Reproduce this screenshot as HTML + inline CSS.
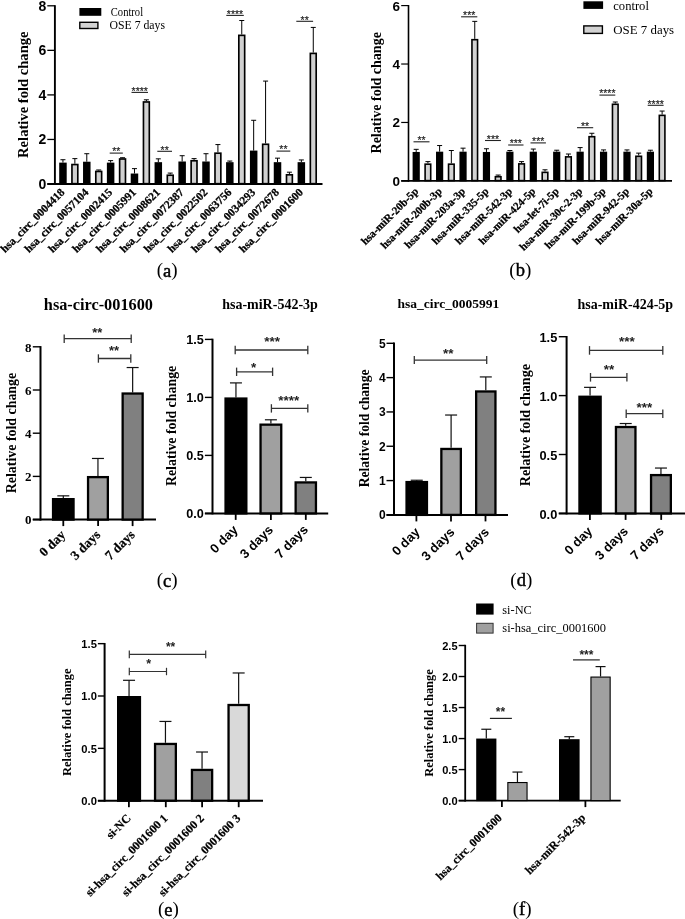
<!DOCTYPE html>
<html><head><meta charset="utf-8"><title>Figure</title>
<style>html,body{margin:0;padding:0;background:#fff;}svg{display:block;will-change:transform;}</style>
</head><body>
<svg width="685" height="919" viewBox="0 0 685 919">
<rect x="0" y="0" width="685" height="919" fill="#fff"/>
<line x1="54.90" y1="5.20" x2="54.90" y2="184.90" stroke="#000" stroke-width="1.9"/>
<line x1="47.30" y1="184.00" x2="54.90" y2="184.00" stroke="#000" stroke-width="1.3"/>
<text x="46.40" y="189.00" font-family='"Liberation Sans", sans-serif' font-size="14" font-weight="bold" text-anchor="end" fill="#000">0</text>
<line x1="47.30" y1="139.45" x2="54.90" y2="139.45" stroke="#000" stroke-width="1.3"/>
<text x="46.40" y="144.45" font-family='"Liberation Sans", sans-serif' font-size="14" font-weight="bold" text-anchor="end" fill="#000">2</text>
<line x1="47.30" y1="94.90" x2="54.90" y2="94.90" stroke="#000" stroke-width="1.3"/>
<text x="46.40" y="99.90" font-family='"Liberation Sans", sans-serif' font-size="14" font-weight="bold" text-anchor="end" fill="#000">4</text>
<line x1="47.30" y1="50.35" x2="54.90" y2="50.35" stroke="#000" stroke-width="1.3"/>
<text x="46.40" y="55.35" font-family='"Liberation Sans", sans-serif' font-size="14" font-weight="bold" text-anchor="end" fill="#000">6</text>
<line x1="47.30" y1="5.80" x2="54.90" y2="5.80" stroke="#000" stroke-width="1.3"/>
<text x="46.40" y="10.80" font-family='"Liberation Sans", sans-serif' font-size="14" font-weight="bold" text-anchor="end" fill="#000">8</text>
<line x1="47.30" y1="184.00" x2="322.50" y2="184.00" stroke="#000" stroke-width="1.9"/>
<line x1="62.95" y1="162.62" x2="62.95" y2="159.72" stroke="#000" stroke-width="1.0"/>
<line x1="60.45" y1="159.72" x2="65.45" y2="159.72" stroke="#000" stroke-width="1.0"/>
<rect x="59.20" y="162.62" width="7.50" height="21.88" fill="#000"/>
<line x1="74.87" y1="163.73" x2="74.87" y2="158.61" stroke="#000" stroke-width="1.0"/>
<line x1="72.37" y1="158.61" x2="77.37" y2="158.61" stroke="#000" stroke-width="1.0"/>
<rect x="71.95" y="164.55" width="5.85" height="19.12" fill="#d0d0d0" stroke="#000" stroke-width="1.65"/>
<line x1="86.79" y1="161.72" x2="86.79" y2="153.71" stroke="#000" stroke-width="1.0"/>
<line x1="84.29" y1="153.71" x2="89.29" y2="153.71" stroke="#000" stroke-width="1.0"/>
<rect x="83.04" y="161.72" width="7.50" height="22.78" fill="#000"/>
<line x1="98.71" y1="170.63" x2="98.71" y2="169.97" stroke="#000" stroke-width="1.0"/>
<line x1="96.21" y1="169.97" x2="101.21" y2="169.97" stroke="#000" stroke-width="1.0"/>
<rect x="95.79" y="171.46" width="5.85" height="12.22" fill="#d0d0d0" stroke="#000" stroke-width="1.65"/>
<line x1="110.63" y1="162.62" x2="110.63" y2="160.61" stroke="#000" stroke-width="1.0"/>
<line x1="108.13" y1="160.61" x2="113.13" y2="160.61" stroke="#000" stroke-width="1.0"/>
<rect x="106.88" y="162.62" width="7.50" height="21.88" fill="#000"/>
<line x1="122.55" y1="158.16" x2="122.55" y2="157.72" stroke="#000" stroke-width="1.0"/>
<line x1="120.05" y1="157.72" x2="125.05" y2="157.72" stroke="#000" stroke-width="1.0"/>
<rect x="119.63" y="158.99" width="5.85" height="24.69" fill="#d0d0d0" stroke="#000" stroke-width="1.65"/>
<line x1="134.47" y1="173.53" x2="134.47" y2="168.63" stroke="#000" stroke-width="1.0"/>
<line x1="131.97" y1="168.63" x2="136.97" y2="168.63" stroke="#000" stroke-width="1.0"/>
<rect x="130.72" y="173.53" width="7.50" height="10.97" fill="#000"/>
<line x1="146.39" y1="101.14" x2="146.39" y2="99.80" stroke="#000" stroke-width="1.0"/>
<line x1="143.89" y1="99.80" x2="148.89" y2="99.80" stroke="#000" stroke-width="1.0"/>
<rect x="143.46" y="101.96" width="5.85" height="81.71" fill="#d0d0d0" stroke="#000" stroke-width="1.65"/>
<line x1="158.31" y1="162.17" x2="158.31" y2="158.83" stroke="#000" stroke-width="1.0"/>
<line x1="155.81" y1="158.83" x2="160.81" y2="158.83" stroke="#000" stroke-width="1.0"/>
<rect x="154.56" y="162.17" width="7.50" height="22.33" fill="#000"/>
<line x1="170.23" y1="174.42" x2="170.23" y2="173.09" stroke="#000" stroke-width="1.0"/>
<line x1="167.73" y1="173.09" x2="172.73" y2="173.09" stroke="#000" stroke-width="1.0"/>
<rect x="167.31" y="175.25" width="5.85" height="8.43" fill="#d0d0d0" stroke="#000" stroke-width="1.65"/>
<line x1="182.15" y1="161.50" x2="182.15" y2="155.71" stroke="#000" stroke-width="1.0"/>
<line x1="179.65" y1="155.71" x2="184.65" y2="155.71" stroke="#000" stroke-width="1.0"/>
<rect x="178.40" y="161.50" width="7.50" height="23.00" fill="#000"/>
<line x1="194.07" y1="159.94" x2="194.07" y2="158.61" stroke="#000" stroke-width="1.0"/>
<line x1="191.57" y1="158.61" x2="196.57" y2="158.61" stroke="#000" stroke-width="1.0"/>
<rect x="191.14" y="160.77" width="5.85" height="22.91" fill="#d0d0d0" stroke="#000" stroke-width="1.65"/>
<line x1="205.99" y1="161.50" x2="205.99" y2="153.71" stroke="#000" stroke-width="1.0"/>
<line x1="203.49" y1="153.71" x2="208.49" y2="153.71" stroke="#000" stroke-width="1.0"/>
<rect x="202.24" y="161.50" width="7.50" height="23.00" fill="#000"/>
<line x1="217.91" y1="152.37" x2="217.91" y2="144.57" stroke="#000" stroke-width="1.0"/>
<line x1="215.41" y1="144.57" x2="220.41" y2="144.57" stroke="#000" stroke-width="1.0"/>
<rect x="214.99" y="153.19" width="5.85" height="30.48" fill="#d0d0d0" stroke="#000" stroke-width="1.65"/>
<line x1="229.83" y1="162.17" x2="229.83" y2="161.06" stroke="#000" stroke-width="1.0"/>
<line x1="227.33" y1="161.06" x2="232.33" y2="161.06" stroke="#000" stroke-width="1.0"/>
<rect x="226.08" y="162.17" width="7.50" height="22.33" fill="#000"/>
<line x1="241.75" y1="34.53" x2="241.75" y2="20.50" stroke="#000" stroke-width="1.0"/>
<line x1="239.25" y1="20.50" x2="244.25" y2="20.50" stroke="#000" stroke-width="1.0"/>
<rect x="238.82" y="35.36" width="5.85" height="148.32" fill="#d0d0d0" stroke="#000" stroke-width="1.65"/>
<line x1="253.67" y1="150.59" x2="253.67" y2="120.29" stroke="#000" stroke-width="1.0"/>
<line x1="251.17" y1="120.29" x2="256.17" y2="120.29" stroke="#000" stroke-width="1.0"/>
<rect x="249.92" y="150.59" width="7.50" height="33.91" fill="#000"/>
<line x1="265.59" y1="143.46" x2="265.59" y2="81.09" stroke="#000" stroke-width="1.0"/>
<line x1="263.09" y1="81.09" x2="268.09" y2="81.09" stroke="#000" stroke-width="1.0"/>
<rect x="262.66" y="144.28" width="5.85" height="39.39" fill="#d0d0d0" stroke="#000" stroke-width="1.65"/>
<line x1="277.51" y1="162.17" x2="277.51" y2="158.16" stroke="#000" stroke-width="1.0"/>
<line x1="275.01" y1="158.16" x2="280.01" y2="158.16" stroke="#000" stroke-width="1.0"/>
<rect x="273.76" y="162.17" width="7.50" height="22.33" fill="#000"/>
<line x1="289.43" y1="173.98" x2="289.43" y2="172.19" stroke="#000" stroke-width="1.0"/>
<line x1="286.93" y1="172.19" x2="291.93" y2="172.19" stroke="#000" stroke-width="1.0"/>
<rect x="286.50" y="174.80" width="5.85" height="8.87" fill="#d0d0d0" stroke="#000" stroke-width="1.65"/>
<line x1="301.35" y1="162.17" x2="301.35" y2="159.94" stroke="#000" stroke-width="1.0"/>
<line x1="298.85" y1="159.94" x2="303.85" y2="159.94" stroke="#000" stroke-width="1.0"/>
<rect x="297.60" y="162.17" width="7.50" height="22.33" fill="#000"/>
<line x1="313.27" y1="52.58" x2="313.27" y2="27.41" stroke="#000" stroke-width="1.0"/>
<line x1="310.77" y1="27.41" x2="315.77" y2="27.41" stroke="#000" stroke-width="1.0"/>
<rect x="310.34" y="53.40" width="5.85" height="130.27" fill="#d0d0d0" stroke="#000" stroke-width="1.65"/>
<line x1="109.70" y1="153.10" x2="122.80" y2="153.10" stroke="#222" stroke-width="1.1"/>
<text x="116.25" y="155.30" font-family='"Liberation Sans", sans-serif' font-size="10.5" text-anchor="middle" fill="#222" stroke="#222" stroke-width="0.15">**</text>
<line x1="131.50" y1="92.40" x2="148.00" y2="92.40" stroke="#222" stroke-width="1.1"/>
<text x="139.75" y="94.60" font-family='"Liberation Sans", sans-serif' font-size="10.5" text-anchor="middle" fill="#222" stroke="#222" stroke-width="0.15">****</text>
<line x1="157.30" y1="151.30" x2="172.00" y2="151.30" stroke="#222" stroke-width="1.1"/>
<text x="164.65" y="153.50" font-family='"Liberation Sans", sans-serif' font-size="10.5" text-anchor="middle" fill="#222" stroke="#222" stroke-width="0.15">**</text>
<line x1="226.30" y1="15.40" x2="243.80" y2="15.40" stroke="#222" stroke-width="1.1"/>
<text x="235.05" y="17.60" font-family='"Liberation Sans", sans-serif' font-size="10.5" text-anchor="middle" fill="#222" stroke="#222" stroke-width="0.15">****</text>
<line x1="276.50" y1="151.10" x2="290.30" y2="151.10" stroke="#222" stroke-width="1.1"/>
<text x="283.40" y="153.30" font-family='"Liberation Sans", sans-serif' font-size="10.5" text-anchor="middle" fill="#222" stroke="#222" stroke-width="0.15">**</text>
<line x1="296.30" y1="21.30" x2="313.10" y2="21.30" stroke="#222" stroke-width="1.1"/>
<text x="304.70" y="23.50" font-family='"Liberation Sans", sans-serif' font-size="10.5" text-anchor="middle" fill="#222" stroke="#222" stroke-width="0.15">**</text>
<rect x="79.40" y="8.00" width="21.90" height="7.80" fill="#000"/>
<rect x="79.80" y="22.30" width="18.10" height="6.20" fill="#d2d2d2" stroke="#000" stroke-width="1.4"/>
<text x="110.80" y="15.90" font-family='"Liberation Serif", serif' font-size="11.7" font-weight="normal" text-anchor="start" fill="#000" textLength="32.30" lengthAdjust="spacingAndGlyphs">Control</text>
<text x="109.60" y="29.30" font-family='"Liberation Serif", serif' font-size="11.7" font-weight="normal" text-anchor="start" fill="#000" textLength="55.40" lengthAdjust="spacingAndGlyphs">OSE 7 days</text>
<text x="28.00" y="94.70" font-family='"Liberation Serif", serif' font-size="14.6" font-weight="bold" text-anchor="middle" fill="#000" transform="rotate(-90 28.00 94.70)">Relative fold change</text>
<text x="65.31" y="193.00" font-family='"Liberation Serif", serif' font-size="11.3" font-weight="bold" text-anchor="end" fill="#000" transform="rotate(-45 65.31 193.00)" stroke="#000" stroke-width="0.25">hsa_circ_0004418</text>
<text x="89.15" y="193.00" font-family='"Liberation Serif", serif' font-size="11.3" font-weight="bold" text-anchor="end" fill="#000" transform="rotate(-45 89.15 193.00)" stroke="#000" stroke-width="0.25">hsa_circ_0057104</text>
<text x="112.99" y="193.00" font-family='"Liberation Serif", serif' font-size="11.3" font-weight="bold" text-anchor="end" fill="#000" transform="rotate(-45 112.99 193.00)" stroke="#000" stroke-width="0.25">hsa_circ_0002415</text>
<text x="136.83" y="193.00" font-family='"Liberation Serif", serif' font-size="11.3" font-weight="bold" text-anchor="end" fill="#000" transform="rotate(-45 136.83 193.00)" stroke="#000" stroke-width="0.25">hsa_circ_0005991</text>
<text x="160.67" y="193.00" font-family='"Liberation Serif", serif' font-size="11.3" font-weight="bold" text-anchor="end" fill="#000" transform="rotate(-45 160.67 193.00)" stroke="#000" stroke-width="0.25">hsa_circ_0008621</text>
<text x="184.51" y="193.00" font-family='"Liberation Serif", serif' font-size="11.3" font-weight="bold" text-anchor="end" fill="#000" transform="rotate(-45 184.51 193.00)" stroke="#000" stroke-width="0.25">hsa_circ_0072387</text>
<text x="208.35" y="193.00" font-family='"Liberation Serif", serif' font-size="11.3" font-weight="bold" text-anchor="end" fill="#000" transform="rotate(-45 208.35 193.00)" stroke="#000" stroke-width="0.25">hsa_circ_0022502</text>
<text x="232.19" y="193.00" font-family='"Liberation Serif", serif' font-size="11.3" font-weight="bold" text-anchor="end" fill="#000" transform="rotate(-45 232.19 193.00)" stroke="#000" stroke-width="0.25">hsa_circ_0063756</text>
<text x="256.03" y="193.00" font-family='"Liberation Serif", serif' font-size="11.3" font-weight="bold" text-anchor="end" fill="#000" transform="rotate(-45 256.03 193.00)" stroke="#000" stroke-width="0.25">hsa_circ_0034293</text>
<text x="279.87" y="193.00" font-family='"Liberation Serif", serif' font-size="11.3" font-weight="bold" text-anchor="end" fill="#000" transform="rotate(-45 279.87 193.00)" stroke="#000" stroke-width="0.25">hsa_circ_0072678</text>
<text x="303.71" y="193.00" font-family='"Liberation Serif", serif' font-size="11.3" font-weight="bold" text-anchor="end" fill="#000" transform="rotate(-45 303.71 193.00)" stroke="#000" stroke-width="0.25">hsa_circ_0001600</text>
<text x="167.20" y="276.10" font-family='"Liberation Serif", serif' font-size="19" text-anchor="middle">(<tspan font-size="18.5" stroke="#000" stroke-width="0.45" dy="0.6">a</tspan><tspan dy="-0.6">)</tspan></text>
<line x1="408.50" y1="4.98" x2="408.50" y2="181.80" stroke="#000" stroke-width="1.6"/>
<line x1="401.20" y1="180.90" x2="408.50" y2="180.90" stroke="#000" stroke-width="1.2"/>
<text x="400.10" y="185.90" font-family='"Liberation Sans", sans-serif' font-size="13.5" font-weight="bold" text-anchor="end" fill="#000">0</text>
<line x1="401.20" y1="122.46" x2="408.50" y2="122.46" stroke="#000" stroke-width="1.2"/>
<text x="400.10" y="127.46" font-family='"Liberation Sans", sans-serif' font-size="13.5" font-weight="bold" text-anchor="end" fill="#000">2</text>
<line x1="401.20" y1="64.02" x2="408.50" y2="64.02" stroke="#000" stroke-width="1.2"/>
<text x="400.10" y="69.02" font-family='"Liberation Sans", sans-serif' font-size="13.5" font-weight="bold" text-anchor="end" fill="#000">4</text>
<line x1="401.20" y1="5.58" x2="408.50" y2="5.58" stroke="#000" stroke-width="1.2"/>
<text x="400.10" y="10.58" font-family='"Liberation Sans", sans-serif' font-size="13.5" font-weight="bold" text-anchor="end" fill="#000">6</text>
<line x1="401.20" y1="180.90" x2="672.00" y2="180.90" stroke="#000" stroke-width="1.9"/>
<line x1="416.20" y1="151.97" x2="416.20" y2="149.34" stroke="#000" stroke-width="1.0"/>
<line x1="413.70" y1="149.34" x2="418.70" y2="149.34" stroke="#000" stroke-width="1.0"/>
<rect x="412.60" y="151.97" width="7.20" height="29.43" fill="#000"/>
<line x1="427.91" y1="163.37" x2="427.91" y2="161.61" stroke="#000" stroke-width="1.0"/>
<line x1="425.41" y1="161.61" x2="430.41" y2="161.61" stroke="#000" stroke-width="1.0"/>
<rect x="425.11" y="164.17" width="5.60" height="16.43" fill="#d2d2d2" stroke="#000" stroke-width="1.6"/>
<line x1="439.62" y1="151.68" x2="439.62" y2="145.54" stroke="#000" stroke-width="1.0"/>
<line x1="437.12" y1="145.54" x2="442.12" y2="145.54" stroke="#000" stroke-width="1.0"/>
<rect x="436.02" y="151.68" width="7.20" height="29.72" fill="#000"/>
<line x1="451.33" y1="163.37" x2="451.33" y2="150.51" stroke="#000" stroke-width="1.0"/>
<line x1="448.83" y1="150.51" x2="453.83" y2="150.51" stroke="#000" stroke-width="1.0"/>
<rect x="448.53" y="164.17" width="5.60" height="16.43" fill="#d2d2d2" stroke="#000" stroke-width="1.6"/>
<line x1="463.04" y1="151.68" x2="463.04" y2="148.17" stroke="#000" stroke-width="1.0"/>
<line x1="460.54" y1="148.17" x2="465.54" y2="148.17" stroke="#000" stroke-width="1.0"/>
<rect x="459.44" y="151.68" width="7.20" height="29.72" fill="#000"/>
<line x1="474.75" y1="38.89" x2="474.75" y2="21.36" stroke="#000" stroke-width="1.0"/>
<line x1="472.25" y1="21.36" x2="477.25" y2="21.36" stroke="#000" stroke-width="1.0"/>
<rect x="471.95" y="39.69" width="5.60" height="140.91" fill="#d2d2d2" stroke="#000" stroke-width="1.6"/>
<line x1="486.46" y1="151.97" x2="486.46" y2="148.76" stroke="#000" stroke-width="1.0"/>
<line x1="483.96" y1="148.76" x2="488.96" y2="148.76" stroke="#000" stroke-width="1.0"/>
<rect x="482.86" y="151.97" width="7.20" height="29.43" fill="#000"/>
<line x1="498.17" y1="175.93" x2="498.17" y2="175.06" stroke="#000" stroke-width="1.0"/>
<line x1="495.67" y1="175.06" x2="500.67" y2="175.06" stroke="#000" stroke-width="1.0"/>
<rect x="495.37" y="176.73" width="5.60" height="3.87" fill="#d2d2d2" stroke="#000" stroke-width="1.6"/>
<line x1="509.88" y1="151.68" x2="509.88" y2="150.51" stroke="#000" stroke-width="1.0"/>
<line x1="507.38" y1="150.51" x2="512.38" y2="150.51" stroke="#000" stroke-width="1.0"/>
<rect x="506.28" y="151.68" width="7.20" height="29.72" fill="#000"/>
<line x1="521.59" y1="163.08" x2="521.59" y2="161.61" stroke="#000" stroke-width="1.0"/>
<line x1="519.09" y1="161.61" x2="524.09" y2="161.61" stroke="#000" stroke-width="1.0"/>
<rect x="518.79" y="163.88" width="5.60" height="16.72" fill="#d2d2d2" stroke="#000" stroke-width="1.6"/>
<line x1="533.30" y1="151.68" x2="533.30" y2="149.05" stroke="#000" stroke-width="1.0"/>
<line x1="530.80" y1="149.05" x2="535.80" y2="149.05" stroke="#000" stroke-width="1.0"/>
<rect x="529.70" y="151.68" width="7.20" height="29.72" fill="#000"/>
<line x1="545.01" y1="171.55" x2="545.01" y2="169.80" stroke="#000" stroke-width="1.0"/>
<line x1="542.51" y1="169.80" x2="547.51" y2="169.80" stroke="#000" stroke-width="1.0"/>
<rect x="542.21" y="172.35" width="5.60" height="8.25" fill="#d2d2d2" stroke="#000" stroke-width="1.6"/>
<line x1="556.72" y1="151.68" x2="556.72" y2="150.22" stroke="#000" stroke-width="1.0"/>
<line x1="554.22" y1="150.22" x2="559.22" y2="150.22" stroke="#000" stroke-width="1.0"/>
<rect x="553.12" y="151.68" width="7.20" height="29.72" fill="#000"/>
<line x1="568.43" y1="156.06" x2="568.43" y2="154.02" stroke="#000" stroke-width="1.0"/>
<line x1="565.93" y1="154.02" x2="570.93" y2="154.02" stroke="#000" stroke-width="1.0"/>
<rect x="565.63" y="156.86" width="5.60" height="23.74" fill="#d2d2d2" stroke="#000" stroke-width="1.6"/>
<line x1="580.14" y1="151.68" x2="580.14" y2="147.59" stroke="#000" stroke-width="1.0"/>
<line x1="577.64" y1="147.59" x2="582.64" y2="147.59" stroke="#000" stroke-width="1.0"/>
<rect x="576.54" y="151.68" width="7.20" height="29.72" fill="#000"/>
<line x1="591.85" y1="135.90" x2="591.85" y2="133.27" stroke="#000" stroke-width="1.0"/>
<line x1="589.35" y1="133.27" x2="594.35" y2="133.27" stroke="#000" stroke-width="1.0"/>
<rect x="589.05" y="136.70" width="5.60" height="43.90" fill="#d2d2d2" stroke="#000" stroke-width="1.6"/>
<line x1="603.56" y1="151.68" x2="603.56" y2="149.93" stroke="#000" stroke-width="1.0"/>
<line x1="601.06" y1="149.93" x2="606.06" y2="149.93" stroke="#000" stroke-width="1.0"/>
<rect x="599.96" y="151.68" width="7.20" height="29.72" fill="#000"/>
<line x1="615.27" y1="103.47" x2="615.27" y2="102.01" stroke="#000" stroke-width="1.0"/>
<line x1="612.77" y1="102.01" x2="617.77" y2="102.01" stroke="#000" stroke-width="1.0"/>
<rect x="612.47" y="104.27" width="5.60" height="76.33" fill="#d2d2d2" stroke="#000" stroke-width="1.6"/>
<line x1="626.98" y1="151.68" x2="626.98" y2="149.93" stroke="#000" stroke-width="1.0"/>
<line x1="624.48" y1="149.93" x2="629.48" y2="149.93" stroke="#000" stroke-width="1.0"/>
<rect x="623.38" y="151.68" width="7.20" height="29.72" fill="#000"/>
<line x1="638.69" y1="155.48" x2="638.69" y2="153.14" stroke="#000" stroke-width="1.0"/>
<line x1="636.19" y1="153.14" x2="641.19" y2="153.14" stroke="#000" stroke-width="1.0"/>
<rect x="635.89" y="156.28" width="5.60" height="24.32" fill="#a8a8a8" stroke="#000" stroke-width="1.6"/>
<line x1="650.40" y1="151.68" x2="650.40" y2="150.22" stroke="#000" stroke-width="1.0"/>
<line x1="647.90" y1="150.22" x2="652.90" y2="150.22" stroke="#000" stroke-width="1.0"/>
<rect x="646.80" y="151.68" width="7.20" height="29.72" fill="#000"/>
<line x1="662.11" y1="114.57" x2="662.11" y2="111.06" stroke="#000" stroke-width="1.0"/>
<line x1="659.61" y1="111.06" x2="664.61" y2="111.06" stroke="#000" stroke-width="1.0"/>
<rect x="659.31" y="115.37" width="5.60" height="65.23" fill="#d2d2d2" stroke="#000" stroke-width="1.6"/>
<line x1="413.50" y1="141.80" x2="429.50" y2="141.80" stroke="#222" stroke-width="1.1"/>
<text x="421.50" y="144.00" font-family='"Liberation Sans", sans-serif' font-size="10.5" text-anchor="middle" fill="#222" stroke="#222" stroke-width="0.15">**</text>
<line x1="461.10" y1="16.80" x2="477.30" y2="16.80" stroke="#222" stroke-width="1.1"/>
<text x="469.20" y="19.00" font-family='"Liberation Sans", sans-serif' font-size="10.5" text-anchor="middle" fill="#222" stroke="#222" stroke-width="0.15">***</text>
<line x1="485.00" y1="140.50" x2="500.90" y2="140.50" stroke="#222" stroke-width="1.1"/>
<text x="492.95" y="142.70" font-family='"Liberation Sans", sans-serif' font-size="10.5" text-anchor="middle" fill="#222" stroke="#222" stroke-width="0.15">***</text>
<line x1="508.10" y1="145.00" x2="523.50" y2="145.00" stroke="#222" stroke-width="1.1"/>
<text x="515.80" y="147.20" font-family='"Liberation Sans", sans-serif' font-size="10.5" text-anchor="middle" fill="#222" stroke="#222" stroke-width="0.15">***</text>
<line x1="530.50" y1="142.90" x2="545.90" y2="142.90" stroke="#222" stroke-width="1.1"/>
<text x="538.20" y="145.10" font-family='"Liberation Sans", sans-serif' font-size="10.5" text-anchor="middle" fill="#222" stroke="#222" stroke-width="0.15">***</text>
<line x1="577.00" y1="127.70" x2="593.20" y2="127.70" stroke="#222" stroke-width="1.1"/>
<text x="585.10" y="129.90" font-family='"Liberation Sans", sans-serif' font-size="10.5" text-anchor="middle" fill="#222" stroke="#222" stroke-width="0.15">**</text>
<line x1="599.40" y1="95.10" x2="615.30" y2="95.10" stroke="#222" stroke-width="1.1"/>
<text x="607.35" y="97.30" font-family='"Liberation Sans", sans-serif' font-size="10.5" text-anchor="middle" fill="#222" stroke="#222" stroke-width="0.15">****</text>
<line x1="647.70" y1="105.30" x2="663.60" y2="105.30" stroke="#222" stroke-width="1.1"/>
<text x="655.65" y="107.50" font-family='"Liberation Sans", sans-serif' font-size="10.5" text-anchor="middle" fill="#222" stroke="#222" stroke-width="0.15">****</text>
<rect x="583.40" y="1.30" width="19.70" height="7.60" fill="#000"/>
<rect x="583.80" y="25.90" width="18.60" height="7.50" fill="#d2d2d2" stroke="#000" stroke-width="1.4"/>
<text x="613.30" y="9.70" font-family='"Liberation Serif", serif' font-size="13" font-weight="normal" text-anchor="start" fill="#000" textLength="35.60" lengthAdjust="spacingAndGlyphs">control</text>
<text x="613.30" y="34.40" font-family='"Liberation Serif", serif' font-size="13" font-weight="normal" text-anchor="start" fill="#000" textLength="60.80" lengthAdjust="spacingAndGlyphs">OSE 7 days</text>
<text x="381.20" y="92.80" font-family='"Liberation Serif", serif' font-size="14" font-weight="bold" text-anchor="middle" fill="#000" transform="rotate(-90 381.20 92.80)">Relative fold change</text>
<text x="419.06" y="192.00" font-family='"Liberation Serif", serif' font-size="11.0" font-weight="bold" text-anchor="end" fill="#000" transform="rotate(-45 419.06 192.00)" stroke="#000" stroke-width="0.25">hsa-miR-20b-5p</text>
<text x="442.48" y="192.00" font-family='"Liberation Serif", serif' font-size="11.0" font-weight="bold" text-anchor="end" fill="#000" transform="rotate(-45 442.48 192.00)" stroke="#000" stroke-width="0.25">hsa-miR-200b-3p</text>
<text x="465.90" y="192.00" font-family='"Liberation Serif", serif' font-size="11.0" font-weight="bold" text-anchor="end" fill="#000" transform="rotate(-45 465.90 192.00)" stroke="#000" stroke-width="0.25">hsa-miR-203a-3p</text>
<text x="489.31" y="192.00" font-family='"Liberation Serif", serif' font-size="11.0" font-weight="bold" text-anchor="end" fill="#000" transform="rotate(-45 489.31 192.00)" stroke="#000" stroke-width="0.25">hsa-miR-335-5p</text>
<text x="512.74" y="192.00" font-family='"Liberation Serif", serif' font-size="11.0" font-weight="bold" text-anchor="end" fill="#000" transform="rotate(-45 512.74 192.00)" stroke="#000" stroke-width="0.25">hsa-miR-542-3p</text>
<text x="536.16" y="192.00" font-family='"Liberation Serif", serif' font-size="11.0" font-weight="bold" text-anchor="end" fill="#000" transform="rotate(-45 536.16 192.00)" stroke="#000" stroke-width="0.25">hsa-miR-424-5p</text>
<text x="559.58" y="192.00" font-family='"Liberation Serif", serif' font-size="11.0" font-weight="bold" text-anchor="end" fill="#000" transform="rotate(-45 559.58 192.00)" stroke="#000" stroke-width="0.25">hsa-let-7i-5p</text>
<text x="583.00" y="192.00" font-family='"Liberation Serif", serif' font-size="11.0" font-weight="bold" text-anchor="end" fill="#000" transform="rotate(-45 583.00 192.00)" stroke="#000" stroke-width="0.25">hsa-miR-30c-2-3p</text>
<text x="606.42" y="192.00" font-family='"Liberation Serif", serif' font-size="11.0" font-weight="bold" text-anchor="end" fill="#000" transform="rotate(-45 606.42 192.00)" stroke="#000" stroke-width="0.25">hsa-miR-199b-5p</text>
<text x="629.84" y="192.00" font-family='"Liberation Serif", serif' font-size="11.0" font-weight="bold" text-anchor="end" fill="#000" transform="rotate(-45 629.84 192.00)" stroke="#000" stroke-width="0.25">hsa-miR-942-5p</text>
<text x="653.26" y="192.00" font-family='"Liberation Serif", serif' font-size="11.0" font-weight="bold" text-anchor="end" fill="#000" transform="rotate(-45 653.26 192.00)" stroke="#000" stroke-width="0.25">hsa-miR-30a-5p</text>
<text x="520.30" y="275.80" font-family='"Liberation Serif", serif' font-size="19" text-anchor="middle">(<tspan font-size="18.5" stroke="#000" stroke-width="0.45" dy="0.6">b</tspan><tspan dy="-0.6">)</tspan></text>
<line x1="40.50" y1="346.10" x2="40.50" y2="520.60" stroke="#000" stroke-width="2.0"/>
<line x1="32.80" y1="519.60" x2="40.50" y2="519.60" stroke="#000" stroke-width="1.4"/>
<text x="31.60" y="524.30" font-family='"Liberation Serif", serif' font-size="13" font-weight="bold" text-anchor="end" fill="#000">0</text>
<line x1="32.80" y1="476.40" x2="40.50" y2="476.40" stroke="#000" stroke-width="1.4"/>
<text x="31.60" y="481.10" font-family='"Liberation Serif", serif' font-size="13" font-weight="bold" text-anchor="end" fill="#000">2</text>
<line x1="32.80" y1="433.20" x2="40.50" y2="433.20" stroke="#000" stroke-width="1.4"/>
<text x="31.60" y="437.90" font-family='"Liberation Serif", serif' font-size="13" font-weight="bold" text-anchor="end" fill="#000">4</text>
<line x1="32.80" y1="390.00" x2="40.50" y2="390.00" stroke="#000" stroke-width="1.4"/>
<text x="31.60" y="394.70" font-family='"Liberation Serif", serif' font-size="13" font-weight="bold" text-anchor="end" fill="#000">6</text>
<line x1="32.80" y1="346.80" x2="40.50" y2="346.80" stroke="#000" stroke-width="1.4"/>
<text x="31.60" y="351.50" font-family='"Liberation Serif", serif' font-size="13" font-weight="bold" text-anchor="end" fill="#000">8</text>
<line x1="32.80" y1="519.60" x2="156.00" y2="519.60" stroke="#000" stroke-width="2.0"/>
<line x1="63.30" y1="498.00" x2="63.30" y2="495.84" stroke="#111" stroke-width="1.2"/>
<line x1="57.30" y1="495.84" x2="69.30" y2="495.84" stroke="#111" stroke-width="1.2"/>
<rect x="51.90" y="498.00" width="22.80" height="22.75" fill="#000"/>
<line x1="97.95" y1="475.97" x2="97.95" y2="458.47" stroke="#111" stroke-width="1.2"/>
<line x1="91.95" y1="458.47" x2="103.95" y2="458.47" stroke="#111" stroke-width="1.2"/>
<rect x="88.05" y="477.12" width="19.80" height="42.48" fill="#a0a0a0" stroke="#000" stroke-width="2.3"/>
<line x1="132.65" y1="392.38" x2="132.65" y2="367.54" stroke="#111" stroke-width="1.2"/>
<line x1="126.65" y1="367.54" x2="138.65" y2="367.54" stroke="#111" stroke-width="1.2"/>
<rect x="122.65" y="393.53" width="20.00" height="126.07" fill="#808080" stroke="#000" stroke-width="2.3"/>
<line x1="63.30" y1="519.60" x2="63.30" y2="526.10" stroke="#000" stroke-width="1.8"/>
<line x1="98.10" y1="519.60" x2="98.10" y2="526.10" stroke="#000" stroke-width="1.8"/>
<line x1="132.60" y1="519.60" x2="132.60" y2="526.10" stroke="#000" stroke-width="1.8"/>
<line x1="64.20" y1="338.70" x2="131.20" y2="338.70" stroke="#333" stroke-width="1.3"/>
<line x1="64.20" y1="334.50" x2="64.20" y2="342.90" stroke="#333" stroke-width="1.3"/>
<line x1="131.20" y1="334.50" x2="131.20" y2="342.90" stroke="#333" stroke-width="1.3"/>
<text x="97.20" y="336.65" font-family='"Liberation Sans", sans-serif' font-size="13" text-anchor="middle" font-weight="bold" fill="#222">**</text>
<line x1="98.40" y1="358.50" x2="130.80" y2="358.50" stroke="#333" stroke-width="1.3"/>
<line x1="98.40" y1="354.30" x2="98.40" y2="362.70" stroke="#333" stroke-width="1.3"/>
<line x1="130.80" y1="354.30" x2="130.80" y2="362.70" stroke="#333" stroke-width="1.3"/>
<text x="114.00" y="355.05" font-family='"Liberation Sans", sans-serif' font-size="13" text-anchor="middle" font-weight="bold" fill="#222">**</text>
<text x="98.40" y="310.00" font-family='"Liberation Serif", serif' font-size="16.3" font-weight="bold" text-anchor="middle" fill="#000">hsa-circ-001600</text>
<text x="16.00" y="433.00" font-family='"Liberation Serif", serif' font-size="13.9" font-weight="bold" text-anchor="middle" fill="#000" transform="rotate(-90 16.00 433.00)">Relative fold change</text>
<text x="66.30" y="535.50" font-family='"Liberation Serif", serif' font-size="13.3" font-weight="bold" text-anchor="end" fill="#000" transform="rotate(-45 66.30 535.50)" stroke="#000" stroke-width="0.2">0 day</text>
<text x="101.10" y="535.50" font-family='"Liberation Serif", serif' font-size="13.3" font-weight="bold" text-anchor="end" fill="#000" transform="rotate(-45 101.10 535.50)" stroke="#000" stroke-width="0.2">3 days</text>
<text x="135.60" y="535.50" font-family='"Liberation Serif", serif' font-size="13.3" font-weight="bold" text-anchor="end" fill="#000" transform="rotate(-45 135.60 535.50)" stroke="#000" stroke-width="0.2">7 days</text>
<line x1="212.50" y1="338.70" x2="212.50" y2="514.40" stroke="#000" stroke-width="2.0"/>
<line x1="204.90" y1="513.40" x2="212.50" y2="513.40" stroke="#000" stroke-width="1.4"/>
<text x="186.20" y="518.20" font-family='"Liberation Sans", sans-serif' font-size="12.5" font-weight="bold" textLength="17.60" lengthAdjust="spacingAndGlyphs">0.0</text>
<line x1="204.90" y1="455.40" x2="212.50" y2="455.40" stroke="#000" stroke-width="1.4"/>
<text x="186.20" y="460.20" font-family='"Liberation Sans", sans-serif' font-size="12.5" font-weight="bold" textLength="17.60" lengthAdjust="spacingAndGlyphs">0.5</text>
<line x1="204.90" y1="397.40" x2="212.50" y2="397.40" stroke="#000" stroke-width="1.4"/>
<text x="186.20" y="402.20" font-family='"Liberation Sans", sans-serif' font-size="12.5" font-weight="bold" textLength="17.60" lengthAdjust="spacingAndGlyphs">1.0</text>
<line x1="204.90" y1="339.40" x2="212.50" y2="339.40" stroke="#000" stroke-width="1.4"/>
<text x="186.20" y="344.20" font-family='"Liberation Sans", sans-serif' font-size="12.5" font-weight="bold" textLength="17.60" lengthAdjust="spacingAndGlyphs">1.5</text>
<line x1="204.90" y1="513.40" x2="328.20" y2="513.40" stroke="#000" stroke-width="2.0"/>
<line x1="235.95" y1="397.40" x2="235.95" y2="382.90" stroke="#111" stroke-width="1.2"/>
<line x1="229.95" y1="382.90" x2="241.95" y2="382.90" stroke="#111" stroke-width="1.2"/>
<rect x="224.40" y="397.40" width="23.10" height="117.15" fill="#000"/>
<line x1="270.90" y1="423.50" x2="270.90" y2="419.79" stroke="#111" stroke-width="1.2"/>
<line x1="264.90" y1="419.79" x2="276.90" y2="419.79" stroke="#111" stroke-width="1.2"/>
<rect x="260.55" y="424.65" width="20.70" height="88.75" fill="#a0a0a0" stroke="#000" stroke-width="2.3"/>
<line x1="305.80" y1="481.27" x2="305.80" y2="477.44" stroke="#111" stroke-width="1.2"/>
<line x1="299.80" y1="477.44" x2="311.80" y2="477.44" stroke="#111" stroke-width="1.2"/>
<rect x="295.65" y="482.42" width="20.30" height="30.98" fill="#808080" stroke="#000" stroke-width="2.3"/>
<line x1="235.70" y1="513.40" x2="235.70" y2="519.90" stroke="#000" stroke-width="1.8"/>
<line x1="270.90" y1="513.40" x2="270.90" y2="519.90" stroke="#000" stroke-width="1.8"/>
<line x1="305.80" y1="513.40" x2="305.80" y2="519.90" stroke="#000" stroke-width="1.8"/>
<line x1="235.20" y1="350.00" x2="307.80" y2="350.00" stroke="#333" stroke-width="1.3"/>
<line x1="235.20" y1="345.80" x2="235.20" y2="354.20" stroke="#333" stroke-width="1.3"/>
<line x1="307.80" y1="345.80" x2="307.80" y2="354.20" stroke="#333" stroke-width="1.3"/>
<text x="272.10" y="345.53" font-family='"Liberation Sans", sans-serif' font-size="13.5" text-anchor="middle" font-weight="bold" fill="#222">***</text>
<line x1="236.60" y1="371.80" x2="272.60" y2="371.80" stroke="#333" stroke-width="1.3"/>
<line x1="236.60" y1="367.60" x2="236.60" y2="376.00" stroke="#333" stroke-width="1.3"/>
<line x1="272.60" y1="367.60" x2="272.60" y2="376.00" stroke="#333" stroke-width="1.3"/>
<text x="253.70" y="371.73" font-family='"Liberation Sans", sans-serif' font-size="13.5" text-anchor="middle" font-weight="bold" fill="#222">*</text>
<line x1="271.40" y1="408.40" x2="307.80" y2="408.40" stroke="#333" stroke-width="1.3"/>
<line x1="271.40" y1="404.20" x2="271.40" y2="412.60" stroke="#333" stroke-width="1.3"/>
<line x1="307.80" y1="404.20" x2="307.80" y2="412.60" stroke="#333" stroke-width="1.3"/>
<text x="288.70" y="405.33" font-family='"Liberation Sans", sans-serif' font-size="13.5" text-anchor="middle" font-weight="bold" fill="#222">****</text>
<text x="270.00" y="308.90" font-family='"Liberation Serif", serif' font-size="14" font-weight="bold" text-anchor="middle" fill="#000">hsa-miR-542-3p</text>
<text x="175.80" y="425.90" font-family='"Liberation Serif", serif' font-size="13.9" font-weight="bold" text-anchor="middle" fill="#000" transform="rotate(-90 175.80 425.90)">Relative fold change</text>
<text x="238.70" y="530.50" font-family='"Liberation Sans", sans-serif' font-size="13" font-weight="bold" text-anchor="end" fill="#000" transform="rotate(-45 238.70 530.50)">0 day</text>
<text x="273.90" y="530.50" font-family='"Liberation Sans", sans-serif' font-size="13" font-weight="bold" text-anchor="end" fill="#000" transform="rotate(-45 273.90 530.50)">3 days</text>
<text x="308.80" y="530.50" font-family='"Liberation Sans", sans-serif' font-size="13" font-weight="bold" text-anchor="end" fill="#000" transform="rotate(-45 308.80 530.50)">7 days</text>
<text x="167.20" y="586.00" font-family='"Liberation Serif", serif' font-size="19" text-anchor="middle">(<tspan font-size="18.5" stroke="#000" stroke-width="0.45" dy="0.6">c</tspan><tspan dy="-0.6">)</tspan></text>
<line x1="394.00" y1="342.60" x2="394.00" y2="515.90" stroke="#000" stroke-width="2.0"/>
<line x1="386.50" y1="514.90" x2="394.00" y2="514.90" stroke="#000" stroke-width="1.4"/>
<text x="385.60" y="519.20" font-family='"Liberation Sans", sans-serif' font-size="12" font-weight="bold" text-anchor="end" fill="#000">0</text>
<line x1="386.50" y1="480.58" x2="394.00" y2="480.58" stroke="#000" stroke-width="1.4"/>
<text x="385.60" y="484.88" font-family='"Liberation Sans", sans-serif' font-size="12" font-weight="bold" text-anchor="end" fill="#000">1</text>
<line x1="386.50" y1="446.26" x2="394.00" y2="446.26" stroke="#000" stroke-width="1.4"/>
<text x="385.60" y="450.56" font-family='"Liberation Sans", sans-serif' font-size="12" font-weight="bold" text-anchor="end" fill="#000">2</text>
<line x1="386.50" y1="411.94" x2="394.00" y2="411.94" stroke="#000" stroke-width="1.4"/>
<text x="385.60" y="416.24" font-family='"Liberation Sans", sans-serif' font-size="12" font-weight="bold" text-anchor="end" fill="#000">3</text>
<line x1="386.50" y1="377.62" x2="394.00" y2="377.62" stroke="#000" stroke-width="1.4"/>
<text x="385.60" y="381.92" font-family='"Liberation Sans", sans-serif' font-size="12" font-weight="bold" text-anchor="end" fill="#000">4</text>
<line x1="386.50" y1="343.30" x2="394.00" y2="343.30" stroke="#000" stroke-width="1.4"/>
<text x="385.60" y="347.60" font-family='"Liberation Sans", sans-serif' font-size="12" font-weight="bold" text-anchor="end" fill="#000">5</text>
<line x1="386.50" y1="514.90" x2="508.00" y2="514.90" stroke="#000" stroke-width="2.0"/>
<line x1="416.75" y1="480.92" x2="416.75" y2="480.24" stroke="#111" stroke-width="1.2"/>
<line x1="410.75" y1="480.24" x2="422.75" y2="480.24" stroke="#111" stroke-width="1.2"/>
<rect x="405.40" y="480.92" width="22.70" height="35.13" fill="#000"/>
<line x1="451.10" y1="447.80" x2="451.10" y2="415.03" stroke="#111" stroke-width="1.2"/>
<line x1="445.10" y1="415.03" x2="457.10" y2="415.03" stroke="#111" stroke-width="1.2"/>
<rect x="441.35" y="448.95" width="19.50" height="65.95" fill="#a0a0a0" stroke="#000" stroke-width="2.3"/>
<line x1="485.80" y1="390.32" x2="485.80" y2="376.93" stroke="#111" stroke-width="1.2"/>
<line x1="479.80" y1="376.93" x2="491.80" y2="376.93" stroke="#111" stroke-width="1.2"/>
<rect x="476.15" y="391.47" width="19.30" height="123.43" fill="#808080" stroke="#000" stroke-width="2.3"/>
<line x1="416.40" y1="514.90" x2="416.40" y2="521.40" stroke="#000" stroke-width="1.8"/>
<line x1="451.00" y1="514.90" x2="451.00" y2="521.40" stroke="#000" stroke-width="1.8"/>
<line x1="485.50" y1="514.90" x2="485.50" y2="521.40" stroke="#000" stroke-width="1.8"/>
<line x1="414.30" y1="360.10" x2="486.70" y2="360.10" stroke="#333" stroke-width="1.3"/>
<line x1="414.30" y1="356.10" x2="414.30" y2="364.10" stroke="#333" stroke-width="1.3"/>
<line x1="486.70" y1="356.10" x2="486.70" y2="364.10" stroke="#333" stroke-width="1.3"/>
<text x="448.20" y="357.83" font-family='"Liberation Sans", sans-serif' font-size="13.5" text-anchor="middle" font-weight="bold" fill="#222">**</text>
<text x="448.30" y="308.20" font-family='"Liberation Serif", serif' font-size="13.5" font-weight="bold" text-anchor="middle" fill="#000">hsa_circ_0005991</text>
<text x="369.00" y="428.40" font-family='"Liberation Serif", serif' font-size="13.6" font-weight="bold" text-anchor="middle" fill="#000" transform="rotate(-90 369.00 428.40)">Relative fold change</text>
<text x="420.70" y="532.80" font-family='"Liberation Sans", sans-serif' font-size="13" font-weight="bold" text-anchor="end" fill="#000" transform="rotate(-45 420.70 532.80)">0 day</text>
<text x="455.30" y="532.80" font-family='"Liberation Sans", sans-serif' font-size="13" font-weight="bold" text-anchor="end" fill="#000" transform="rotate(-45 455.30 532.80)">3 days</text>
<text x="489.80" y="532.80" font-family='"Liberation Sans", sans-serif' font-size="13" font-weight="bold" text-anchor="end" fill="#000" transform="rotate(-45 489.80 532.80)">7 days</text>
<line x1="566.60" y1="336.00" x2="566.60" y2="514.40" stroke="#000" stroke-width="2.0"/>
<line x1="558.80" y1="513.40" x2="566.60" y2="513.40" stroke="#000" stroke-width="1.4"/>
<text x="539.50" y="518.50" font-family='"Liberation Sans", sans-serif' font-size="13.2" font-weight="bold" textLength="17.80" lengthAdjust="spacingAndGlyphs">0.0</text>
<line x1="558.80" y1="454.50" x2="566.60" y2="454.50" stroke="#000" stroke-width="1.4"/>
<text x="539.50" y="459.60" font-family='"Liberation Sans", sans-serif' font-size="13.2" font-weight="bold" textLength="17.80" lengthAdjust="spacingAndGlyphs">0.5</text>
<line x1="558.80" y1="395.60" x2="566.60" y2="395.60" stroke="#000" stroke-width="1.4"/>
<text x="539.50" y="400.70" font-family='"Liberation Sans", sans-serif' font-size="13.2" font-weight="bold" textLength="17.80" lengthAdjust="spacingAndGlyphs">1.0</text>
<line x1="558.80" y1="336.70" x2="566.60" y2="336.70" stroke="#000" stroke-width="1.4"/>
<text x="539.50" y="341.80" font-family='"Liberation Sans", sans-serif' font-size="13.2" font-weight="bold" textLength="17.80" lengthAdjust="spacingAndGlyphs">1.5</text>
<line x1="558.80" y1="513.40" x2="685.00" y2="513.40" stroke="#000" stroke-width="2.0"/>
<line x1="590.05" y1="395.60" x2="590.05" y2="387.35" stroke="#111" stroke-width="1.2"/>
<line x1="584.05" y1="387.35" x2="596.05" y2="387.35" stroke="#111" stroke-width="1.2"/>
<rect x="578.30" y="395.60" width="23.50" height="118.95" fill="#000"/>
<line x1="625.70" y1="425.87" x2="625.70" y2="423.52" stroke="#111" stroke-width="1.2"/>
<line x1="619.70" y1="423.52" x2="631.70" y2="423.52" stroke="#111" stroke-width="1.2"/>
<rect x="615.95" y="427.02" width="19.50" height="86.38" fill="#a0a0a0" stroke="#000" stroke-width="2.3"/>
<line x1="660.95" y1="473.94" x2="660.95" y2="468.05" stroke="#111" stroke-width="1.2"/>
<line x1="654.95" y1="468.05" x2="666.95" y2="468.05" stroke="#111" stroke-width="1.2"/>
<rect x="651.05" y="475.09" width="19.80" height="38.31" fill="#808080" stroke="#000" stroke-width="2.3"/>
<line x1="589.90" y1="513.40" x2="589.90" y2="519.90" stroke="#000" stroke-width="1.8"/>
<line x1="625.60" y1="513.40" x2="625.60" y2="519.90" stroke="#000" stroke-width="1.8"/>
<line x1="661.20" y1="513.40" x2="661.20" y2="519.90" stroke="#000" stroke-width="1.8"/>
<line x1="589.50" y1="350.40" x2="662.80" y2="350.40" stroke="#333" stroke-width="1.3"/>
<line x1="589.50" y1="346.10" x2="589.50" y2="354.70" stroke="#333" stroke-width="1.3"/>
<line x1="662.80" y1="346.10" x2="662.80" y2="354.70" stroke="#333" stroke-width="1.3"/>
<text x="627.00" y="346.13" font-family='"Liberation Sans", sans-serif' font-size="13.5" text-anchor="middle" font-weight="bold" fill="#222">***</text>
<line x1="590.50" y1="377.30" x2="626.90" y2="377.30" stroke="#333" stroke-width="1.3"/>
<line x1="590.50" y1="373.00" x2="590.50" y2="381.60" stroke="#333" stroke-width="1.3"/>
<line x1="626.90" y1="373.00" x2="626.90" y2="381.60" stroke="#333" stroke-width="1.3"/>
<text x="609.10" y="374.43" font-family='"Liberation Sans", sans-serif' font-size="13.5" text-anchor="middle" font-weight="bold" fill="#222">**</text>
<line x1="626.20" y1="413.70" x2="662.80" y2="413.70" stroke="#333" stroke-width="1.3"/>
<line x1="626.20" y1="409.40" x2="626.20" y2="418.00" stroke="#333" stroke-width="1.3"/>
<line x1="662.80" y1="409.40" x2="662.80" y2="418.00" stroke="#333" stroke-width="1.3"/>
<text x="644.50" y="411.63" font-family='"Liberation Sans", sans-serif' font-size="13.5" text-anchor="middle" font-weight="bold" fill="#222">***</text>
<text x="625.30" y="309.00" font-family='"Liberation Serif", serif' font-size="14" font-weight="bold" text-anchor="middle" fill="#000">hsa-miR-424-5p</text>
<text x="530.20" y="425.10" font-family='"Liberation Serif", serif' font-size="14.1" font-weight="bold" text-anchor="middle" fill="#000" transform="rotate(-90 530.20 425.10)">Relative fold change</text>
<text x="593.20" y="532.00" font-family='"Liberation Sans", sans-serif' font-size="13" font-weight="bold" text-anchor="end" fill="#000" transform="rotate(-45 593.20 532.00)">0 day</text>
<text x="628.90" y="532.00" font-family='"Liberation Sans", sans-serif' font-size="13" font-weight="bold" text-anchor="end" fill="#000" transform="rotate(-45 628.90 532.00)">3 days</text>
<text x="664.50" y="532.00" font-family='"Liberation Sans", sans-serif' font-size="13" font-weight="bold" text-anchor="end" fill="#000" transform="rotate(-45 664.50 532.00)">7 days</text>
<text x="521.30" y="585.80" font-family='"Liberation Serif", serif' font-size="19" text-anchor="middle">(<tspan font-size="18.5" stroke="#000" stroke-width="0.45" dy="0.6">d</tspan><tspan dy="-0.6">)</tspan></text>
<line x1="104.60" y1="642.95" x2="104.60" y2="801.70" stroke="#000" stroke-width="2.0"/>
<line x1="97.90" y1="800.70" x2="104.60" y2="800.70" stroke="#000" stroke-width="1.4"/>
<text x="81.30" y="805.00" font-family='"Liberation Sans", sans-serif' font-size="10.6" font-weight="bold" textLength="15.60" lengthAdjust="spacingAndGlyphs">0.0</text>
<line x1="97.90" y1="748.35" x2="104.60" y2="748.35" stroke="#000" stroke-width="1.4"/>
<text x="81.30" y="752.65" font-family='"Liberation Sans", sans-serif' font-size="10.6" font-weight="bold" textLength="15.60" lengthAdjust="spacingAndGlyphs">0.5</text>
<line x1="97.90" y1="696.00" x2="104.60" y2="696.00" stroke="#000" stroke-width="1.4"/>
<text x="81.30" y="700.30" font-family='"Liberation Sans", sans-serif' font-size="10.6" font-weight="bold" textLength="15.60" lengthAdjust="spacingAndGlyphs">1.0</text>
<line x1="97.90" y1="643.65" x2="104.60" y2="643.65" stroke="#000" stroke-width="1.4"/>
<text x="81.30" y="647.95" font-family='"Liberation Sans", sans-serif' font-size="10.6" font-weight="bold" textLength="15.60" lengthAdjust="spacingAndGlyphs">1.5</text>
<line x1="97.90" y1="800.70" x2="263.00" y2="800.70" stroke="#000" stroke-width="2.0"/>
<line x1="129.05" y1="696.00" x2="129.05" y2="680.30" stroke="#111" stroke-width="1.2"/>
<line x1="123.05" y1="680.30" x2="135.05" y2="680.30" stroke="#111" stroke-width="1.2"/>
<rect x="117.00" y="696.00" width="24.10" height="105.85" fill="#000"/>
<line x1="165.45" y1="742.80" x2="165.45" y2="721.44" stroke="#111" stroke-width="1.2"/>
<line x1="159.45" y1="721.44" x2="171.45" y2="721.44" stroke="#111" stroke-width="1.2"/>
<rect x="155.05" y="743.95" width="20.80" height="56.75" fill="#a0a0a0" stroke="#000" stroke-width="2.3"/>
<line x1="202.05" y1="768.77" x2="202.05" y2="752.01" stroke="#111" stroke-width="1.2"/>
<line x1="196.05" y1="752.01" x2="208.05" y2="752.01" stroke="#111" stroke-width="1.2"/>
<rect x="191.95" y="769.92" width="20.20" height="30.78" fill="#808080" stroke="#000" stroke-width="2.3"/>
<line x1="238.65" y1="703.85" x2="238.65" y2="672.97" stroke="#111" stroke-width="1.2"/>
<line x1="232.65" y1="672.97" x2="244.65" y2="672.97" stroke="#111" stroke-width="1.2"/>
<rect x="228.55" y="705.00" width="20.20" height="95.70" fill="#d9d9d9" stroke="#000" stroke-width="2.3"/>
<line x1="128.90" y1="800.70" x2="128.90" y2="807.20" stroke="#000" stroke-width="1.8"/>
<line x1="165.80" y1="800.70" x2="165.80" y2="807.20" stroke="#000" stroke-width="1.8"/>
<line x1="202.10" y1="800.70" x2="202.10" y2="807.20" stroke="#000" stroke-width="1.8"/>
<line x1="238.70" y1="800.70" x2="238.70" y2="807.20" stroke="#000" stroke-width="1.8"/>
<line x1="129.30" y1="654.40" x2="205.70" y2="654.40" stroke="#333" stroke-width="1.2"/>
<line x1="129.30" y1="650.60" x2="129.30" y2="658.20" stroke="#333" stroke-width="1.2"/>
<line x1="205.70" y1="650.60" x2="205.70" y2="658.20" stroke="#333" stroke-width="1.2"/>
<text x="170.60" y="650.60" font-family='"Liberation Sans", sans-serif' font-size="12" text-anchor="middle" font-weight="bold" fill="#222">**</text>
<line x1="129.30" y1="671.50" x2="166.50" y2="671.50" stroke="#333" stroke-width="1.2"/>
<line x1="129.30" y1="667.80" x2="129.30" y2="675.20" stroke="#333" stroke-width="1.2"/>
<line x1="166.50" y1="667.80" x2="166.50" y2="675.20" stroke="#333" stroke-width="1.2"/>
<text x="148.60" y="668.38" font-family='"Liberation Sans", sans-serif' font-size="12.5" text-anchor="middle" font-weight="bold" fill="#222">*</text>
<text x="71.50" y="722.30" font-family='"Liberation Serif", serif' font-size="12.4" font-weight="bold" text-anchor="middle" fill="#000" transform="rotate(-90 71.50 722.30)">Relative fold change</text>
<text x="131.50" y="819.00" font-family='"Liberation Serif", serif' font-size="11.9" font-weight="bold" text-anchor="end" fill="#000" transform="rotate(-45 131.50 819.00)" stroke="#000" stroke-width="0.2">si-NC</text>
<text x="168.40" y="819.00" font-family='"Liberation Serif", serif' font-size="11.9" font-weight="bold" text-anchor="end" fill="#000" transform="rotate(-45 168.40 819.00)" stroke="#000" stroke-width="0.2">si-hsa_circ_0001600 1</text>
<text x="204.70" y="819.00" font-family='"Liberation Serif", serif' font-size="11.9" font-weight="bold" text-anchor="end" fill="#000" transform="rotate(-45 204.70 819.00)" stroke="#000" stroke-width="0.2">si-hsa_circ_0001600 2</text>
<text x="241.30" y="819.00" font-family='"Liberation Serif", serif' font-size="11.9" font-weight="bold" text-anchor="end" fill="#000" transform="rotate(-45 241.30 819.00)" stroke="#000" stroke-width="0.2">si-hsa_circ_0001600 3</text>
<text x="168.40" y="914.90" font-family='"Liberation Serif", serif' font-size="19" text-anchor="middle">(<tspan font-size="18.5" stroke="#000" stroke-width="0.45" dy="0.6">e</tspan><tspan dy="-0.6">)</tspan></text>
<line x1="465.20" y1="644.80" x2="465.20" y2="801.60" stroke="#000" stroke-width="1.8"/>
<line x1="458.70" y1="800.60" x2="465.20" y2="800.60" stroke="#000" stroke-width="1.4"/>
<text x="442.20" y="804.90" font-family='"Liberation Sans", sans-serif' font-size="11.2" font-weight="bold" textLength="15.40" lengthAdjust="spacingAndGlyphs">0.0</text>
<line x1="458.70" y1="769.58" x2="465.20" y2="769.58" stroke="#000" stroke-width="1.4"/>
<text x="442.20" y="773.88" font-family='"Liberation Sans", sans-serif' font-size="11.2" font-weight="bold" textLength="15.40" lengthAdjust="spacingAndGlyphs">0.5</text>
<line x1="458.70" y1="738.56" x2="465.20" y2="738.56" stroke="#000" stroke-width="1.4"/>
<text x="442.20" y="742.86" font-family='"Liberation Sans", sans-serif' font-size="11.2" font-weight="bold" textLength="15.40" lengthAdjust="spacingAndGlyphs">1.0</text>
<line x1="458.70" y1="707.54" x2="465.20" y2="707.54" stroke="#000" stroke-width="1.4"/>
<text x="442.20" y="711.84" font-family='"Liberation Sans", sans-serif' font-size="11.2" font-weight="bold" textLength="15.40" lengthAdjust="spacingAndGlyphs">1.5</text>
<line x1="458.70" y1="676.52" x2="465.20" y2="676.52" stroke="#000" stroke-width="1.4"/>
<text x="442.20" y="680.82" font-family='"Liberation Sans", sans-serif' font-size="11.2" font-weight="bold" textLength="15.40" lengthAdjust="spacingAndGlyphs">2.0</text>
<line x1="458.70" y1="645.50" x2="465.20" y2="645.50" stroke="#000" stroke-width="1.4"/>
<text x="442.20" y="649.80" font-family='"Liberation Sans", sans-serif' font-size="11.2" font-weight="bold" textLength="15.40" lengthAdjust="spacingAndGlyphs">2.5</text>
<line x1="458.70" y1="800.60" x2="620.70" y2="800.60" stroke="#000" stroke-width="1.8"/>
<line x1="486.30" y1="738.56" x2="486.30" y2="729.25" stroke="#111" stroke-width="1.2"/>
<line x1="481.30" y1="729.25" x2="491.30" y2="729.25" stroke="#111" stroke-width="1.2"/>
<rect x="476.20" y="738.56" width="20.20" height="62.59" fill="#000"/>
<line x1="517.45" y1="781.99" x2="517.45" y2="772.06" stroke="#111" stroke-width="1.2"/>
<line x1="512.45" y1="772.06" x2="522.45" y2="772.06" stroke="#111" stroke-width="1.2"/>
<rect x="507.85" y="782.54" width="19.20" height="18.06" fill="#a0a0a0" stroke="#000" stroke-width="1.1"/>
<line x1="569.30" y1="739.18" x2="569.30" y2="736.70" stroke="#111" stroke-width="1.2"/>
<line x1="564.30" y1="736.70" x2="574.30" y2="736.70" stroke="#111" stroke-width="1.2"/>
<rect x="559.00" y="739.18" width="20.60" height="61.97" fill="#000"/>
<line x1="600.55" y1="676.52" x2="600.55" y2="666.59" stroke="#111" stroke-width="1.2"/>
<line x1="595.55" y1="666.59" x2="605.55" y2="666.59" stroke="#111" stroke-width="1.2"/>
<rect x="590.95" y="677.07" width="19.20" height="123.53" fill="#a0a0a0" stroke="#000" stroke-width="1.1"/>
<line x1="501.90" y1="800.60" x2="501.90" y2="807.10" stroke="#000" stroke-width="1.8"/>
<line x1="585.40" y1="800.60" x2="585.40" y2="807.10" stroke="#000" stroke-width="1.8"/>
<line x1="489.90" y1="718.40" x2="511.90" y2="718.40" stroke="#222" stroke-width="1.2"/>
<text x="500.50" y="715.90" font-family='"Liberation Sans", sans-serif' font-size="12" text-anchor="middle" font-weight="bold" fill="#222">**</text>
<line x1="573.00" y1="659.90" x2="599.80" y2="659.90" stroke="#222" stroke-width="1.2"/>
<text x="586.40" y="658.60" font-family='"Liberation Sans", sans-serif' font-size="12" text-anchor="middle" font-weight="bold" fill="#222">***</text>
<rect x="476.10" y="603.50" width="17.50" height="11.10" fill="#000"/>
<rect x="476.60" y="623.30" width="16.50" height="9.80" fill="#a0a0a0" stroke="#333" stroke-width="1.0"/>
<text x="502.30" y="613.70" font-family='"Liberation Serif", serif' font-size="13" font-weight="normal" text-anchor="start" fill="#000" textLength="29.50" lengthAdjust="spacingAndGlyphs">si-NC</text>
<text x="502.30" y="632.10" font-family='"Liberation Serif", serif' font-size="13" font-weight="normal" text-anchor="start" fill="#000" textLength="103.70" lengthAdjust="spacingAndGlyphs">si-hsa_circ_0001600</text>
<text x="433.00" y="723.00" font-family='"Liberation Serif", serif' font-size="12.4" font-weight="bold" text-anchor="middle" fill="#000" transform="rotate(-90 433.00 723.00)">Relative fold change</text>
<text x="502.70" y="818.50" font-family='"Liberation Serif", serif' font-size="11.7" font-weight="bold" text-anchor="end" fill="#000" transform="rotate(-45 502.70 818.50)" stroke="#000" stroke-width="0.2">hsa_circ_0001600</text>
<text x="586.20" y="818.50" font-family='"Liberation Serif", serif' font-size="11.7" font-weight="bold" text-anchor="end" fill="#000" transform="rotate(-45 586.20 818.50)" stroke="#000" stroke-width="0.2">hsa-miR-542-3p</text>
<text x="522.20" y="914.80" font-family='"Liberation Serif", serif' font-size="19" text-anchor="middle">(<tspan font-size="18.5" stroke="#000" stroke-width="0.45" dy="0.6">f</tspan><tspan dy="-0.6">)</tspan></text>
</svg>
</body></html>
